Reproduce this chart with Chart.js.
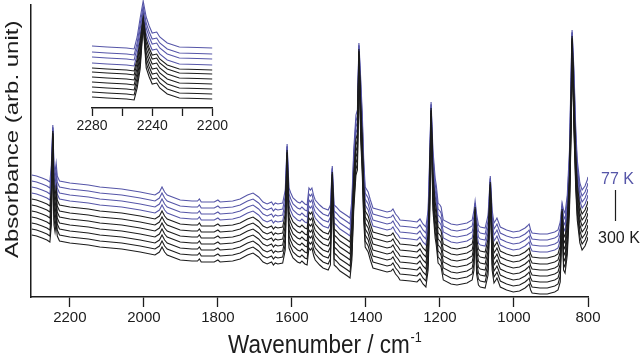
<!DOCTYPE html>
<html>
<head>
<meta charset="utf-8">
<script src="https://cdn.jsdelivr.net/npm/chart.js@4.4.1/dist/chart.umd.min.js"></script>
<style>
  body { margin: 0; background: #fff; }
  #wrap { position: relative; width: 640px; height: 361px; }
  #main { position: absolute; left: 0; top: 0; }
  #inset { position: absolute; left: 60px; top: 0; }
</style>
</head>
<body>
<div id="wrap">
  <canvas id="main" width="640" height="361"></canvas>
  <canvas id="inset" width="170" height="145"></canvas>
</div>
<script>
// top trace (77 K), arbitrary units
var wavenumbers = [2303,2290,2275,2262,2254,2250,2246,2243,2240,2237,2234,2228,2200,2150,2119,2060,2010,1970,1958,1951,1944,1937,1902,1870,1855,1850,1845,1810,1800,1794,1760,1740,1720,1705,1690,1678,1667,1655,1650,1645,1638,1625,1618,1613,1608,1603,1597,1585,1578,1573,1565,1559,1554,1550,1546,1541,1537,1525,1516,1502,1496,1491,1486,1480,1470,1462,1450,1443,1438,1433,1427,1423,1419,1414,1410,1406,1402,1394,1388,1381,1362,1343,1332,1327,1320,1313,1308,1280,1262,1254,1246,1238,1232,1228,1224,1219,1213,1210,1205,1200,1197,1191,1170,1154,1127,1113,1108,1105,1101,1096,1091,1078,1070,1064,1059,1054,1049,1046,1040,1037,1020,1002,985,970,964,959,955,951,930,910,890,881,875,870,866,862,856,850,845,843,838,833,829,822,816,808,802,800];
var absorbance77K = [122,121,119,117,115,132,172,132,125,134,121,116,114,112,110,108,105,102,105,110,105,102,97,96,96,98,95,95,97,95,96,98,102,104,100,95,93,95,92,94,93,94,107,153,109,104,99,95,94,96,93,92,109,107,109,101,97,92,89,87,92,131,92,90,86,84,81,79,97,147,182,187,254,217,184,137,110,105,97,89,87,85,86,88,83,80,77,76,75,78,73,70,87,137,195,147,119,112,94,92,90,77,73,72,74,77,87,96,83,72,70,69,82,121,87,74,77,79,73,70,67,65,66,69,71,73,67,64,63,63,65,67,75,94,87,84,102,147,237,267,227,167,137,114,107,111,117,120];
// vertical stacking of the 11 traces (77 K at top ... 300 K at bottom)
var traceOffsets = [0,6,12,18,24,30,36,42,48,54,60];
var apexOffsets = [0,2,3,5,6,8,9,11,12,14,15];
var peakPositions = [2246,1613,1491,1419,1224,1105,1064,870,843];
var xTicks = [2200,2000,1800,1600,1400,1200,1000,800];

// inset, C≡N stretch region
var insetWavenumbers = [2280,2270,2257,2252,2250,2248,2246,2244,2242,2240,2237,2235,2230,2222,2210,2200];
var insetAbsorbance = [62,61,60,59,71,90,107,91,82,75,76,71,65,61,60.5,60];
var insetOffsets = [0,6,11,17,22,26,31,36,41,46,51];
var insetApexOffsets = [0,5,9,13,16,18,20,21,22,23,24];
var insetPeak = [2246];
var insetTicks = [2280,2260,2240,2220,2200];
var insetLabels = ['2280','','2240','','2200'];

var blue = '#5656a8';
var dark = '#1c1c1c';
var font = '"Liberation Sans", Arial, sans-serif';

function buildSets(xs, ys, offs, apex, peaks) {
	var sets = [];
	// bottom trace first so the black traces end up drawn on top
	for (var i = offs.length - 1; i >= 0; i--) {
		var pts = [];
		for (var j = 0; j < xs.length; j++) {
			var d = peaks.indexOf(xs[j]) >= 0 ? apex[i] : offs[i];
			pts.push({x: xs[j], y: ys[j] - d});
		}
		sets.push({
			label: 'trace ' + (i + 1),
			data: pts,
			borderColor: i < 4 ? blue : dark,
			borderWidth: 1.1,
			pointRadius: 0,
			fill: false,
			tension: 0
		});
	}
	return sets;
}

var textPlugin = {
	id: 'texts',
	afterDraw: function(chart) {
		var ctx = chart.ctx;
		ctx.save();
		ctx.fillStyle = dark;
		ctx.textBaseline = 'alphabetic';
		ctx.textAlign = 'left';

		// x title
		ctx.save();
		ctx.translate(228, 353);
		ctx.scale(0.9, 1);
		ctx.font = '25px ' + font;
		ctx.fillText('Wavenumber / cm', 0, 0);
		var w = ctx.measureText('Wavenumber / cm').width;
		ctx.font = '14px ' + font;
		ctx.fillText('-1', w + 1, -11);
		ctx.restore();

		// y title
		ctx.save();
		ctx.translate(18, 258);
		ctx.scale(0.8, 1);
		ctx.rotate(-Math.PI / 2);
		ctx.font = '24px ' + font;
		ctx.fillText('Absorbance (arb. unit)', 0, 0);
		ctx.restore();

		// temperature marks
		ctx.font = '16px ' + font;
		ctx.fillStyle = blue;
		ctx.fillText('77 K', 601, 184);
		ctx.fillStyle = dark;
		ctx.fillText('300 K', 598, 243);
		ctx.strokeStyle = dark;
		ctx.lineWidth = 1.2;
		ctx.beginPath();
		ctx.moveTo(615.5, 190);
		ctx.lineTo(615.5, 221);
		ctx.stroke();
		ctx.restore();
	}
};

new Chart(document.getElementById('main'), {
	type: 'line',
	data: { datasets: buildSets(wavenumbers, absorbance77K, traceOffsets, apexOffsets, peakPositions) },
	options: {
		responsive: false,
		animation: false,
		devicePixelRatio: 1,
		layout: { padding: { top: 5, right: 52, left: 0, bottom: 0 } },
		plugins: { legend: { display: false }, tooltip: { enabled: false } },
		scales: {
			x: {
				type: 'linear',
				reverse: true,
				min: 800,
				max: 2305,
				afterFit: function(s) { s.height = 64; },
				afterBuildTicks: function(s) { s.ticks = xTicks.map(function(v) { return {value: v}; }); },
				grid: { drawOnChartArea: false, drawTicks: true, tickLength: 10, tickColor: dark, tickWidth: 1.3 },
				border: { display: true, color: dark, width: 1.5 },
				ticks: {
					color: dark,
					font: { family: font, size: 15 },
					padding: 2,
					maxRotation: 0,
					autoSkip: false,
					callback: function(v) { return String(v); }
				}
			},
			y: {
				min: 0,
				max: 292,
				afterFit: function(s) { s.width = 31; },
				grid: { display: false },
				border: { display: true, color: dark, width: 1.5 },
				ticks: { display: false }
			}
		}
	},
	plugins: [textPlugin]
});

new Chart(document.getElementById('inset'), {
	type: 'line',
	data: { datasets: buildSets(insetWavenumbers, insetAbsorbance, insetOffsets, insetApexOffsets, insetPeak) },
	options: {
		responsive: false,
		animation: false,
		devicePixelRatio: 1,
		layout: { padding: { top: 0, right: 17, left: 32, bottom: 0 } },
		plugins: { legend: { display: false }, tooltip: { enabled: false } },
		scales: {
			x: {
				type: 'linear',
				reverse: true,
				min: 2200,
				max: 2280,
				afterFit: function(s) { s.height = 37; },
				afterBuildTicks: function(s) { s.ticks = insetTicks.map(function(v) { return {value: v}; }); },
				grid: { drawOnChartArea: false, drawTicks: true, tickLength: 8, tickColor: dark, tickWidth: 1.3 },
				border: { display: true, color: dark, width: 1.5 },
				ticks: {
					color: dark,
					font: { family: font, size: 14 },
					padding: 2,
					maxRotation: 0,
					autoSkip: false,
					callback: function(v, i) { return insetLabels[i]; }
				}
			},
			y: { display: false, min: 0, max: 108 }
		}
	}
});
</script>
</body>
</html>
